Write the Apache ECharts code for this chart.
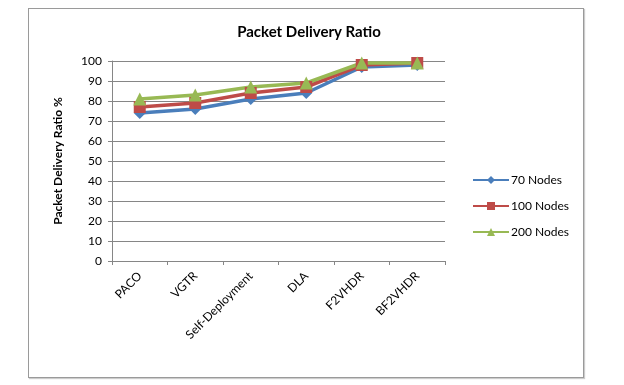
<!DOCTYPE html>
<html>
<head>
<meta charset="utf-8">
<script src="https://cdn.jsdelivr.net/npm/echarts@6/dist/echarts.min.js"></script>
<style>
  body { margin: 0; background: #fff; }
  #chart { position: absolute; left: 0; top: 0; width: 624px; height: 385px; }
  .frame { position: absolute; left: 28px; top: 8px; width: 554px; height: 368px; border: 1px solid #9a9a9a; box-shadow: 1px 1px 1px #ccc; }
</style>
</head>
<body>
<div class="frame"></div>
<div id="chart"></div>
<script>
const categories = ['PACO', 'VGTR', 'Self-Deployment', 'DLA', 'F2VHDR', 'BF2VHDR']
const nodes70 = [74, 76, 81, 84, 97, 98]
const nodes100 = [77, 79, 84, 87, 98, 99]
const nodes200 = [81, 83, 87, 89, 99, 99]
const yTicks = { min: 0, max: 100, interval: 10 }

const font = 'Lato, "Open Sans", sans-serif'

function line(name, data, color, symbol, size) {
  return {
    name: name,
    type: 'line',
    data: data,
    symbol: symbol,
    symbolSize: size,
    lineStyle: { width: 3.5, color: color },
    itemStyle: { color: color },
  }
}

const chart = echarts.init(document.getElementById('chart'))
chart.setOption({
  animation: false,
  textStyle: { fontFamily: font },
  title: {
    text: 'Packet Delivery Ratio',
    left: 304,
    textAlign: 'center',
    top: 20,
    textStyle: { fontSize: 15, fontWeight: 'bold', color: '#000', fontFamily: font },
  },
  grid: { left: 112, right: 179, top: 61, bottom: 124 },
  legend: {
    orient: 'vertical',
    left: 467,
    top: 169,
    itemWidth: 36,
    itemHeight: 10,
    itemGap: 14,
    textStyle: { fontSize: 12, color: '#000', fontFamily: font, padding: [0, 0, 0, -3] },
    data: ['70 Nodes', '100 Nodes', '200 Nodes'],
  },
  xAxis: {
    type: 'category',
    data: categories,
    boundaryGap: true,
    axisLine: { lineStyle: { color: '#868686' } },
    axisTick: { show: true, length: 4, lineStyle: { color: '#868686' } },
    axisLabel: { rotate: 45, fontSize: 12, color: '#000', margin: 13, fontFamily: font },
  },
  yAxis: {
    type: 'value',
    min: yTicks.min,
    max: yTicks.max,
    interval: yTicks.interval,
    name: 'Packet Delivery Ratio %',
    nameLocation: 'middle',
    nameRotate: 90,
    nameGap: 48,
    nameTextStyle: { fontSize: 12, fontWeight: 'bold', color: '#000', fontFamily: font },
    axisLine: { show: true, lineStyle: { color: '#868686' } },
    axisTick: { show: true, inside: false, length: 4, lineStyle: { color: '#868686' } },
    axisLabel: { fontSize: 12, color: '#000', margin: 10, fontFamily: font },
    splitLine: { lineStyle: { color: '#868686', width: 1 } },
  },
  series: [
    line('70 Nodes', nodes70, '#4a7ebb', 'diamond', 12),
    line('100 Nodes', nodes100, '#be4b48', 'rect', 12),
    line('200 Nodes', nodes200, '#98b954', 'triangle', 13),
  ],
})
</script>
</body>
</html>
